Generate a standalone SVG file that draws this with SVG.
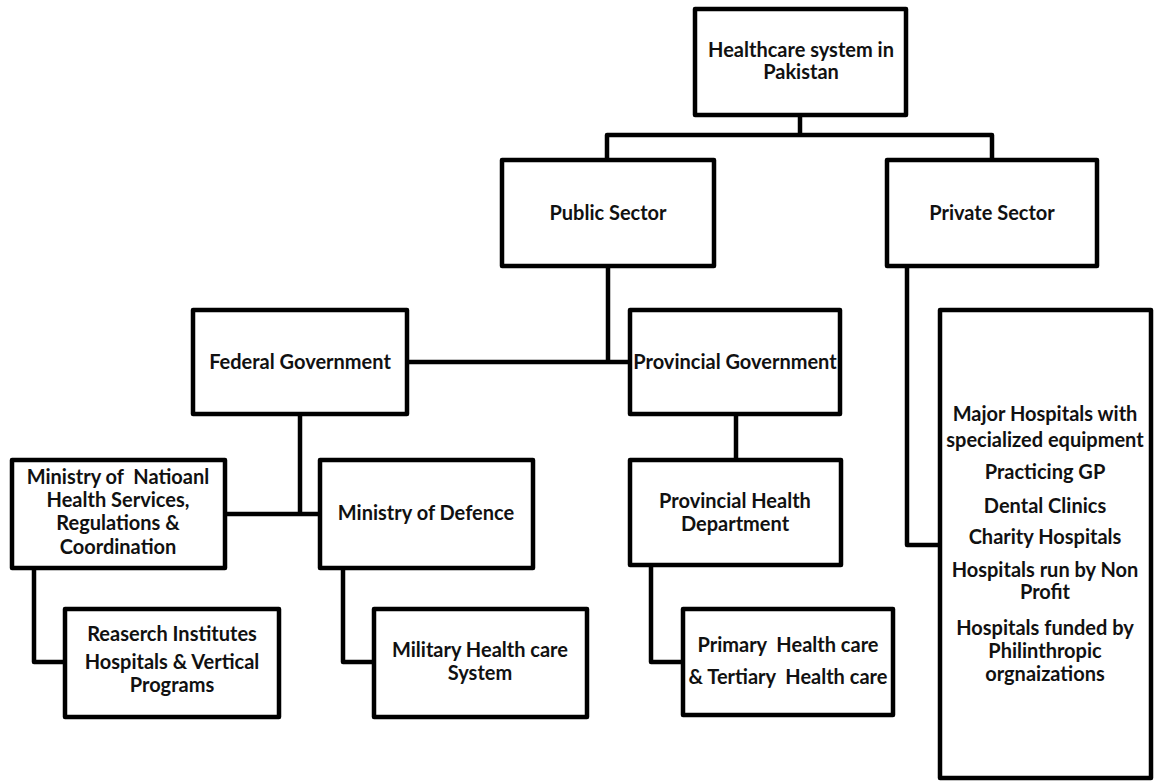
<svg xmlns="http://www.w3.org/2000/svg" width="1155" height="784" viewBox="0 0 1155 784">
<style>
.box{fill:#fff;stroke:#000;stroke-width:4.5;stroke-linejoin:round}
.con{fill:none;stroke:#000;stroke-width:4.5;stroke-linejoin:round}
text{font-family:Lato,"Liberation Sans",sans-serif;font-weight:bold;font-size:20px;fill:#111;text-anchor:middle;white-space:pre}
</style>
<rect width="1155" height="784" fill="#fff"/>
<g id="connectors">
<path class="con" d="M800,115 V135"/>
<path class="con" d="M607,160 V135 H992 V160"/>
<path class="con" d="M608,266 V362"/>
<path class="con" d="M407,362 H630"/>
<path class="con" d="M907,266 V545 H940"/>
<path class="con" d="M736,414 V460"/>
<path class="con" d="M300,414 V514"/>
<path class="con" d="M225,514 H320"/>
<path class="con" d="M34,568 V662 H65"/>
<path class="con" d="M343,568 V662 H374"/>
<path class="con" d="M651,565 V662 H683"/>
</g>
<g id="healthcare">
<rect class="box" x="695" y="9" width="211" height="106"/>
<text x="801" y="57">Healthcare system in</text>
<text x="801" y="79">Pakistan</text>
</g>
<g id="public">
<rect class="box" x="502" y="160" width="212" height="106"/>
<text x="608" y="220">Public Sector</text>
</g>
<g id="private">
<rect class="box" x="887" y="160" width="210" height="106"/>
<text x="992" y="220">Private Sector</text>
</g>
<g id="federal">
<rect class="box" x="193" y="310" width="214" height="104"/>
<text x="300" y="369">Federal Government</text>
</g>
<g id="provincial">
<rect class="box" x="630" y="310" width="210" height="104"/>
<text x="735" y="369">Provincial Government</text>
</g>
<g id="ministry">
<rect class="box" x="12" y="460" width="213" height="108"/>
<text x="118" y="484">Ministry of  Natioanl</text>
<text x="118" y="507">Health Services,</text>
<text x="118" y="530">Regulations &amp;</text>
<text x="118" y="554">Coordination</text>
</g>
<g id="defence">
<rect class="box" x="320" y="460" width="213" height="108"/>
<text x="426" y="520">Ministry of Defence</text>
</g>
<g id="provhealth">
<rect class="box" x="630" y="460" width="211" height="105"/>
<text x="735" y="508">Provincial Health</text>
<text x="735" y="531">Department</text>
</g>
<g id="research">
<rect class="box" x="65" y="609" width="214" height="108"/>
<text x="172" y="641">Reaserch Institutes</text>
<text x="172" y="669">Hospitals &amp; Vertical</text>
<text x="172" y="692">Programs</text>
</g>
<g id="military">
<rect class="box" x="374" y="609" width="213" height="108"/>
<text x="480" y="657">Military Health care</text>
<text x="480" y="680">System</text>
</g>
<g id="primary">
<rect class="box" x="683" y="609" width="210" height="106"/>
<text x="788" y="652">Primary  Health care</text>
<text x="788" y="684">&amp; Tertiary  Health care</text>
</g>
<g id="privatelist">
<rect class="box" x="940" y="310" width="211" height="468"/>
<text x="1045" y="421">Major Hospitals with</text>
<text x="1045" y="447">specialized equipment</text>
<text x="1045" y="479">Practicing GP</text>
<text x="1045" y="513">Dental Clinics</text>
<text x="1045" y="544">Charity Hospitals</text>
<text x="1045" y="577">Hospitals run by Non</text>
<text x="1045" y="599">Profit</text>
<text x="1045" y="635">Hospitals funded by</text>
<text x="1045" y="658">Philinthropic</text>
<text x="1045" y="681">orgnaizations</text>
</g>
</svg>
